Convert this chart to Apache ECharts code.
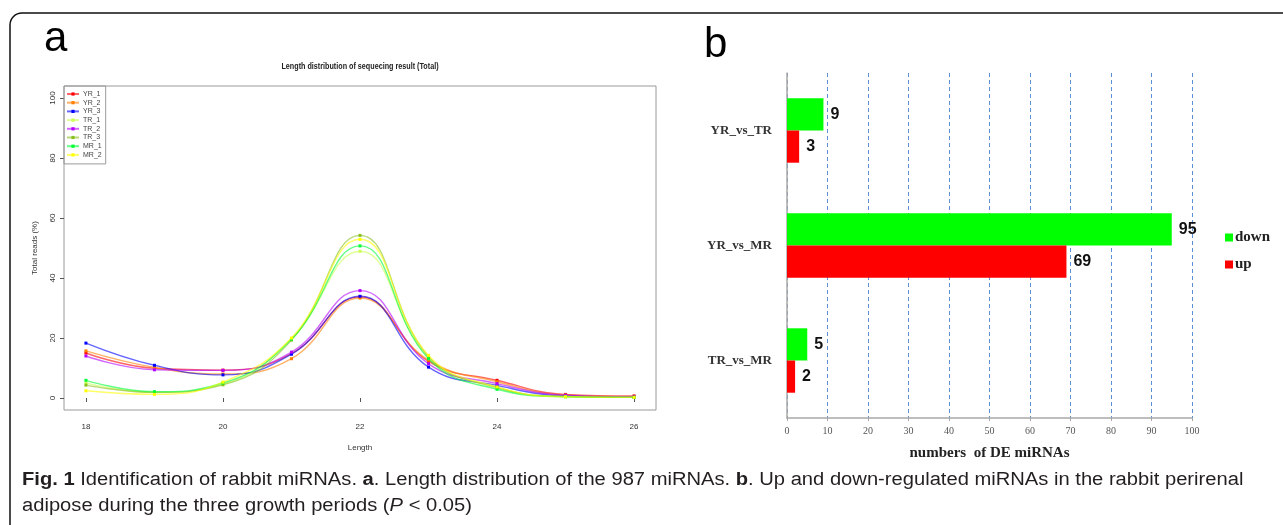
<!DOCTYPE html>
<html>
<head>
<meta charset="utf-8">
<script src="https://cdn.jsdelivr.net/npm/echarts@6/dist/echarts.min.js"></script>
<style>
  html, body { margin: 0; padding: 0; background: #fff; }
  #main { width: 1283px; height: 525px; }
</style>
</head>
<body>
<div id="main"></div>
<script>
// panel a: length distribution (%), one array per library
const lengths = [18, 19, 20, 21, 22, 23, 24, 25, 26];
const YR_1 = [15.0, 9.9, 9.3, 14.8, 33.7, 12.2, 5.9, 1.2, 0.7];
const YR_2 = [15.7, 10.2, 8.0, 13.1, 33.3, 12.6, 5.4, 1.0, 0.4];
const YR_3 = [18.3, 10.9, 7.7, 14.6, 33.9, 10.3, 4.2, 0.7, 0.3];
const TR_1 = [5.0, 1.8, 4.6, 19.8, 48.9, 13.6, 3.4, 0.5, 0.2];
const TR_2 = [14.0, 9.4, 9.2, 15.3, 35.8, 11.4, 4.8, 0.9, 0.3];
const TR_3 = [4.3, 1.9, 4.4, 19.3, 54.2, 13.8, 3.5, 0.5, 0.2];
const MR_1 = [5.9, 2.1, 5.0, 19.6, 50.7, 13.1, 2.9, 0.4, 0.2];
const MR_2 = [2.4, 1.2, 5.3, 20.0, 52.9, 14.2, 3.7, 0.4, 0.2];
const xTicksA = [18, 20, 22, 24, 26];
const yTicksA = [0, 20, 40, 60, 80, 100];

// panel b: DE miRNA counts
const comparisons = ['YR_vs_TR', 'YR_vs_MR', 'TR_vs_MR'];
const down = [9, 95, 5];
const up = [3, 69, 2];

const libs = [
  ['YR_1', YR_1, '#ff0000'],
  ['YR_2', YR_2, '#ff7f00'],
  ['YR_3', YR_3, '#0000ff'],
  ['TR_1', TR_1, '#ccff55'],
  ['TR_2', TR_2, '#b400ff'],
  ['TR_3', TR_3, '#88c020'],
  ['MR_1', MR_1, '#00ff33'],
  ['MR_2', MR_2, '#ffff00']
];

const chart = echarts.init(document.getElementById('main'), null, { renderer: 'canvas' });

const lineSeries = libs.map(([name, vals, color]) => ({
  name: name,
  type: 'line',
  xAxisIndex: 0,
  yAxisIndex: 0,
  smooth: 0.45,
  symbol: 'rect',
  symbolSize: 3,
  itemStyle: { color: color },
  lineStyle: { color: color, width: 1.4, opacity: 0.6 },
  data: lengths.map((x, i) => [x, vals[i]])
}));

const grey = '#9a9a9a';
const serif = '"Liberation Serif", "DejaVu Serif", serif';
const capFont = '"Liberation Sans", Arial, sans-serif';

const option = {
  animation: false,
  grid: [
    { left: 64, right: 627, top: 86, bottom: 115, show: true, borderColor: grey, borderWidth: 1 },
    { left: 787, right: 91, top: 73, bottom: 107 }
  ],
  legend: [
    {
      data: libs.map(l => l[0]),
      orient: 'vertical',
      left: 64, top: 86,
      padding: [4, 4, 5, 2],
      itemGap: 0.7,
      itemWidth: 12, itemHeight: 4,
      borderColor: grey, borderWidth: 1,
      textStyle: { fontSize: 7, lineHeight: 8, color: '#444', fontFamily: capFont, padding: [0, 0, 0, -1] }
    },
    {
      data: ['down', 'up'],
      orient: 'vertical',
      left: 1220, top: 225,
      icon: 'rect',
      itemWidth: 8, itemHeight: 8,
      itemGap: 12,
      textStyle: { fontSize: 15, fontWeight: 'bold', color: '#222', fontFamily: serif, padding: [0, 0, 0, -3] }
    }
  ],
  xAxis: [
    {
      type: 'value', gridIndex: 0, min: 17.68, max: 26.32,
      name: 'Length', nameLocation: 'middle', nameGap: 34,
      nameTextStyle: { fontSize: 8, color: '#333' },
      axisLine: { show: false },
      axisTick: { show: true, customValues: xTicksA, length: 4, lineStyle: { color: '#555' } },
      axisLabel: { customValues: xTicksA, fontSize: 8, color: '#333', margin: 13 },
      splitLine: { show: false }
    },
    {
      type: 'value', gridIndex: 1, min: 0, max: 100, interval: 10,
      name: 'numbers  of DE miRNAs', nameLocation: 'middle', nameGap: 28,
      nameTextStyle: { fontSize: 15, fontWeight: 'bold', color: '#222', fontFamily: serif },
      axisLine: { show: true, lineStyle: { color: '#a8a8a8', width: 1.5 } },
      axisTick: { show: true, length: 3, lineStyle: { color: '#a8a8a8' } },
      axisLabel: { fontSize: 10, color: '#555', fontFamily: serif, margin: 8 },
      splitLine: { show: true, lineStyle: { color: '#5b8fd6', type: [4, 3], width: 1 } }
    }
  ],
  yAxis: [
    {
      type: 'value', gridIndex: 0, min: -4, max: 104,
      name: 'Total reads (%)', nameLocation: 'middle', nameGap: 25, nameRotate: 90,
      nameTextStyle: { fontSize: 8, color: '#333' },
      axisLine: { show: false },
      axisTick: { show: true, customValues: yTicksA, length: 4, lineStyle: { color: '#555' } },
      axisLabel: { customValues: yTicksA, rotate: 90, fontSize: 8, color: '#333', margin: 7 },
      splitLine: { show: false }
    },
    {
      type: 'category', gridIndex: 1, data: comparisons, inverse: true,
      axisLine: { show: true, lineStyle: { color: '#a8a8a8', width: 1.5 } },
      axisTick: { show: false },
      axisLabel: { fontSize: 13, fontWeight: 'bold', color: '#333', fontFamily: serif, margin: 15 }
    }
  ],
  series: lineSeries.concat([
    {
      name: 'down', type: 'bar', xAxisIndex: 1, yAxisIndex: 1,
      data: down, barGap: '0%', barCategoryGap: '44%',
      itemStyle: { color: '#00ff00' },
      label: { show: true, position: 'right', distance: 7, fontSize: 16, fontWeight: 'bold', color: '#111', fontFamily: capFont }
    },
    {
      name: 'up', type: 'bar', xAxisIndex: 1, yAxisIndex: 1,
      data: up, barGap: '0%', barCategoryGap: '44%',
      itemStyle: { color: '#ff0000' },
      label: { show: true, position: 'right', distance: 7, fontSize: 16, fontWeight: 'bold', color: '#111', fontFamily: capFont }
    }
  ]),
  graphic: [
    {
      type: 'rect', z: -1, silent: true,
      shape: { x: 10, y: 13, width: 1320, height: 600, r: 12 },
      style: { fill: 'none', stroke: '#111', lineWidth: 1.5 }
    },
    { type: 'text', left: 44, top: 18, style: { text: 'a', fontSize: 42, fill: '#000', fontFamily: capFont } },
    { type: 'text', left: 704, top: 24, style: { text: 'b', fontSize: 42, fill: '#000', fontFamily: capFont } },
    {
      type: 'text', x: 360, y: 67, scaleX: 0.8,
      style: { text: 'Length distribution of sequecing result (Total)', fontSize: 9, fontWeight: 'bold', fill: '#222', align: 'center', verticalAlign: 'middle', fontFamily: capFont }
    },
    {
      type: 'text', x: 22, y: 480, scaleX: 1.12,
      style: {
        text: '{b|Fig. 1} Identification of rabbit miRNAs. {b|a}. Length distribution of the 987 miRNAs. {b|b}. Up and down-regulated miRNAs in the rabbit perirenal',
        fontSize: 18, fill: '#231f20', verticalAlign: 'middle', fontFamily: capFont,
        rich: { b: { fontWeight: 'bold', fontSize: 18, fontFamily: capFont } }
      }
    },
    {
      type: 'text', x: 22, y: 506, scaleX: 1.12,
      style: {
        text: 'adipose during the three growth periods ({i|P} < 0.05)',
        fontSize: 18, fill: '#231f20', verticalAlign: 'middle', fontFamily: capFont,
        rich: { i: { fontStyle: 'italic', fontSize: 18, fontFamily: capFont } }
      }
    }
  ]
};

chart.setOption(option);
</script>
</body>
</html>
